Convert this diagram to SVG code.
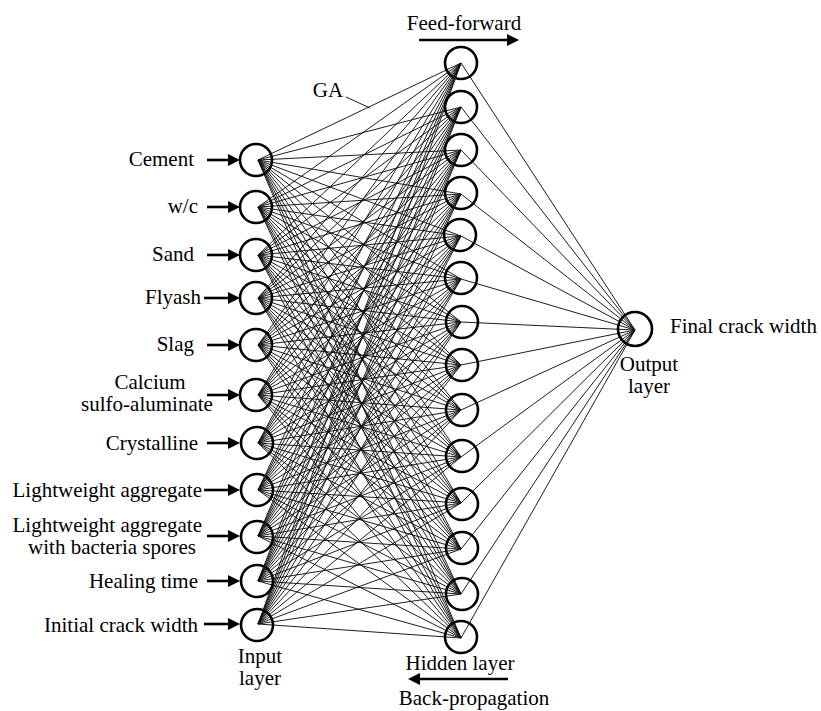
<svg xmlns="http://www.w3.org/2000/svg" width="821" height="711" viewBox="0 0 821 711">
<style>
text{font-family:"Liberation Serif","Times New Roman",serif;font-size:21px;fill:#000}
.n{fill:none;stroke:#000;stroke-width:2.6}
.c{fill:none;stroke:#111;stroke-width:0.95}
.a{stroke:#000;stroke-width:2.6;fill:none}
</style>
<defs>
<marker id="ah" viewBox="0 0 12 12" refX="6" refY="6" markerWidth="12" markerHeight="12" markerUnits="userSpaceOnUse" orient="auto">
<path d="M0 0L12 6L0 12z" fill="#000"/>
</marker>
</defs>
<rect width="821" height="711" fill="#fff"/>
<g id="connectors">
<path class="c" d="M258 160L461 63M258 160L461 107M258 160L461 150M258 160L461 194M258 160L461 236M258 160L461 279M258 160L461 322M258 160L461 365M258 160L461 410M258 160L461 457M258 160L461 503M258 160L461 549M258 160L461 594M258 160L461 638"/>
<path class="c" d="M258 207L461 63M258 207L461 107M258 207L461 150M258 207L461 194M258 207L461 236M258 207L461 279M258 207L461 322M258 207L461 365M258 207L461 410M258 207L461 457M258 207L461 503M258 207L461 549M258 207L461 594M258 207L461 638"/>
<path class="c" d="M258 255L461 63M258 255L461 107M258 255L461 150M258 255L461 194M258 255L461 236M258 255L461 279M258 255L461 322M258 255L461 365M258 255L461 410M258 255L461 457M258 255L461 503M258 255L461 549M258 255L461 594M258 255L461 638"/>
<path class="c" d="M258 298L461 63M258 298L461 107M258 298L461 150M258 298L461 194M258 298L461 236M258 298L461 279M258 298L461 322M258 298L461 365M258 298L461 410M258 298L461 457M258 298L461 503M258 298L461 549M258 298L461 594M258 298L461 638"/>
<path class="c" d="M258 345L461 63M258 345L461 107M258 345L461 150M258 345L461 194M258 345L461 236M258 345L461 279M258 345L461 322M258 345L461 365M258 345L461 410M258 345L461 457M258 345L461 503M258 345L461 549M258 345L461 594M258 345L461 638"/>
<path class="c" d="M258 395L461 63M258 395L461 107M258 395L461 150M258 395L461 194M258 395L461 236M258 395L461 279M258 395L461 322M258 395L461 365M258 395L461 410M258 395L461 457M258 395L461 503M258 395L461 549M258 395L461 594M258 395L461 638"/>
<path class="c" d="M258 443L461 63M258 443L461 107M258 443L461 150M258 443L461 194M258 443L461 236M258 443L461 279M258 443L461 322M258 443L461 365M258 443L461 410M258 443L461 457M258 443L461 503M258 443L461 549M258 443L461 594M258 443L461 638"/>
<path class="c" d="M258 490L461 63M258 490L461 107M258 490L461 150M258 490L461 194M258 490L461 236M258 490L461 279M258 490L461 322M258 490L461 365M258 490L461 410M258 490L461 457M258 490L461 503M258 490L461 549M258 490L461 594M258 490L461 638"/>
<path class="c" d="M258 536L461 63M258 536L461 107M258 536L461 150M258 536L461 194M258 536L461 236M258 536L461 279M258 536L461 322M258 536L461 365M258 536L461 410M258 536L461 457M258 536L461 503M258 536L461 549M258 536L461 594M258 536L461 638"/>
<path class="c" d="M258 581L461 63M258 581L461 107M258 581L461 150M258 581L461 194M258 581L461 236M258 581L461 279M258 581L461 322M258 581L461 365M258 581L461 410M258 581L461 457M258 581L461 503M258 581L461 549M258 581L461 594M258 581L461 638"/>
<path class="c" d="M258 624L461 63M258 624L461 107M258 624L461 150M258 624L461 194M258 624L461 236M258 624L461 279M258 624L461 322M258 624L461 365M258 624L461 410M258 624L461 457M258 624L461 503M258 624L461 549M258 624L461 594M258 624L461 638"/>
<path class="c" d="M461 63L635 330M461 107L635 330M461 150L635 330M461 194L635 330M461 236L635 330M461 279L635 330M461 322L635 330M461 365L635 330M461 410L635 330M461 457L635 330M461 503L635 330M461 549L635 330M461 594L635 330M461 638L635 330"/>
<path class="c" d="M346 97L370 108"/>
<line class="a" x1="207" y1="160" x2="234" y2="160" marker-end="url(#ah)"/>
<line class="a" x1="207" y1="207" x2="234" y2="207" marker-end="url(#ah)"/>
<line class="a" x1="207" y1="255" x2="234" y2="255" marker-end="url(#ah)"/>
<line class="a" x1="204" y1="298" x2="234" y2="298" marker-end="url(#ah)"/>
<line class="a" x1="207" y1="345" x2="234" y2="345" marker-end="url(#ah)"/>
<line class="a" x1="207" y1="395" x2="234" y2="395" marker-end="url(#ah)"/>
<line class="a" x1="207" y1="443" x2="234" y2="443" marker-end="url(#ah)"/>
<line class="a" x1="204" y1="490" x2="234" y2="490" marker-end="url(#ah)"/>
<line class="a" x1="207" y1="536" x2="234" y2="536" marker-end="url(#ah)"/>
<line class="a" x1="207" y1="581" x2="234" y2="581" marker-end="url(#ah)"/>
<line class="a" x1="204" y1="624" x2="234" y2="624" marker-end="url(#ah)"/>
<line class="a" x1="419" y1="40" x2="513" y2="40" marker-end="url(#ah)"/>
<line class="a" x1="508" y1="679" x2="414" y2="679" marker-end="url(#ah)"/>
</g>
<g id="input-nodes">
<g id="in-cement"><circle class="n" cx="256" cy="160" r="16"/><text x="194" y="166" text-anchor="end">Cement</text></g>
<g id="in-wc"><circle class="n" cx="256" cy="207" r="16"/><text x="198" y="213" text-anchor="end">w/c</text></g>
<g id="in-sand"><circle class="n" cx="256" cy="255" r="16"/><text x="194" y="261" text-anchor="end">Sand</text></g>
<g id="in-flyash"><circle class="n" cx="256" cy="298" r="16"/><text x="201" y="304" text-anchor="end">Flyash</text></g>
<g id="in-slag"><circle class="n" cx="256" cy="345" r="16"/><text x="194" y="351" text-anchor="end">Slag</text></g>
<g id="in-csa"><circle class="n" cx="256" cy="395" r="16"/><text x="150" y="389" text-anchor="middle">Calcium</text><text x="147" y="411" text-anchor="middle">sulfo-aluminate</text></g>
<g id="in-crystalline"><circle class="n" cx="257" cy="443" r="16"/><text x="198" y="450" text-anchor="end">Crystalline</text></g>
<g id="in-lwa"><circle class="n" cx="257" cy="490" r="16"/><text x="202" y="497" text-anchor="end">Lightweight aggregate</text></g>
<g id="in-lwab"><circle class="n" cx="257" cy="537" r="16"/><text x="202" y="532" text-anchor="end">Lightweight aggregate</text><text x="196" y="554" text-anchor="end">with bacteria spores</text></g>
<g id="in-healing"><circle class="n" cx="257" cy="581" r="16"/><text x="198" y="588" text-anchor="end">Healing time</text></g>
<g id="in-initial"><circle class="n" cx="257" cy="625" r="16"/><text x="198" y="632" text-anchor="end">Initial crack width</text></g>
<text x="260" y="663" text-anchor="middle">Input</text>
<text x="260" y="685" text-anchor="middle">layer</text>
</g>
<g id="hidden-nodes">
<g id="h1"><circle class="n" cx="461" cy="63" r="16"/></g>
<g id="h2"><circle class="n" cx="461" cy="107" r="16"/></g>
<g id="h3"><circle class="n" cx="461" cy="150" r="16"/></g>
<g id="h4"><circle class="n" cx="461" cy="193" r="16"/></g>
<g id="h5"><circle class="n" cx="460" cy="235" r="16"/></g>
<g id="h6"><circle class="n" cx="461" cy="278" r="16"/></g>
<g id="h7"><circle class="n" cx="462" cy="322" r="16"/></g>
<g id="h8"><circle class="n" cx="462" cy="365" r="16"/></g>
<g id="h9"><circle class="n" cx="462" cy="410" r="16"/></g>
<g id="h10"><circle class="n" cx="462" cy="456" r="16"/></g>
<g id="h11"><circle class="n" cx="462" cy="504" r="16"/></g>
<g id="h12"><circle class="n" cx="462" cy="548" r="16"/></g>
<g id="h13"><circle class="n" cx="462" cy="594" r="16"/></g>
<g id="h14"><circle class="n" cx="461" cy="637" r="16"/></g>
<text x="460" y="670" text-anchor="middle">Hidden layer</text>
</g>
<g id="output-node">
<circle class="n" cx="635" cy="329" r="17"/>
<text x="670" y="333">Final crack width</text>
<text x="649" y="371" text-anchor="middle">Output</text>
<text x="649" y="393" text-anchor="middle">layer</text>
</g>
<g id="labels">
<text x="464" y="30" text-anchor="middle">Feed-forward</text>
<text x="474" y="705" text-anchor="middle">Back-propagation</text>
<text x="328" y="97" text-anchor="middle">GA</text>
</g>
</svg>
